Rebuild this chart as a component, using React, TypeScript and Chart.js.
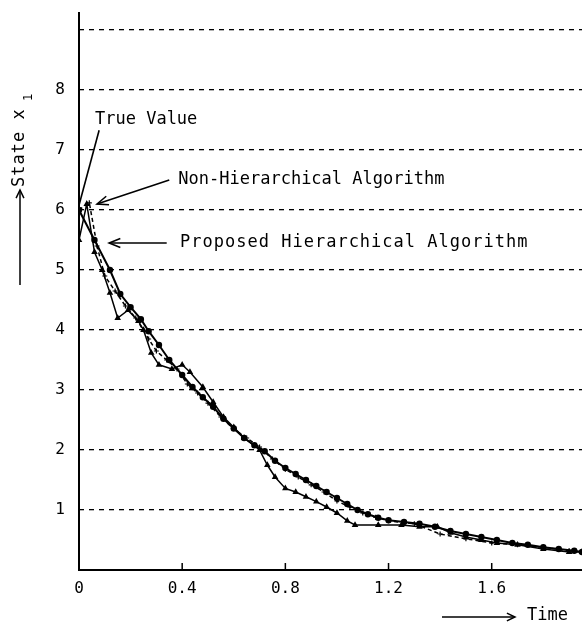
import React, { useEffect, useRef } from 'react';
import { Chart, registerables } from 'chart.js';

Chart.register(...registerables);

// ---- axis ticks ----
const xTickValues = [0, 0.4, 0.8, 1.2, 1.6];
const xTickLabels = ['0', '0.4', '0.8', '1.2', '1.6'];
const yTickValues = [1, 2, 3, 4, 5, 6, 7, 8, 9];
const yTickLabels = ['1', '2', '3', '4', '5', '6', '7', '8', ''];

// ---- series: True Value ----
const trueX = [0, 0.06, 0.12, 0.16, 0.2, 0.24, 0.27, 0.31, 0.35, 0.4, 0.44, 0.48, 0.52, 0.56, 0.6, 0.64, 0.68, 0.72, 0.76, 0.8, 0.84, 0.88, 0.92, 0.96, 1.0, 1.04, 1.08, 1.12, 1.16, 1.2, 1.26, 1.32, 1.38, 1.44, 1.5, 1.56, 1.62, 1.68, 1.74, 1.8, 1.86, 1.92, 1.95];
const trueY = [6.0, 5.5, 5.0, 4.6, 4.38, 4.18, 3.98, 3.75, 3.5, 3.25, 3.05, 2.88, 2.72, 2.52, 2.36, 2.2, 2.08, 1.98, 1.82, 1.7, 1.6, 1.5, 1.4, 1.3, 1.2, 1.1, 1.0, 0.93, 0.87, 0.83, 0.8, 0.77, 0.72, 0.65, 0.6, 0.55, 0.5, 0.45, 0.42, 0.38, 0.35, 0.32, 0.3];

// ---- series: Non-Hierarchical Algorithm ----
const nonHX = [0, 0.03, 0.06, 0.09, 0.12, 0.15, 0.19, 0.23, 0.25, 0.28, 0.31, 0.36, 0.4, 0.43, 0.48, 0.52, 0.56, 0.6, 0.64, 0.7, 0.73, 0.76, 0.8, 0.84, 0.88, 0.92, 0.96, 1.0, 1.04, 1.07, 1.16, 1.25, 1.32, 1.39, 1.44, 1.5, 1.56, 1.62, 1.7, 1.8, 1.9, 1.95];
const nonHY = [5.5, 6.1, 5.3, 5.0, 4.62, 4.2, 4.33, 4.15, 4.0, 3.62, 3.42, 3.35, 3.42, 3.3, 3.05, 2.8, 2.55, 2.38, 2.2, 2.0, 1.75, 1.55, 1.36, 1.3, 1.22, 1.14, 1.05, 0.95, 0.82, 0.75, 0.75, 0.75, 0.72, 0.72, 0.62, 0.55, 0.5, 0.45, 0.42, 0.35, 0.3, 0.3];

// ---- series: Proposed Hierarchical Algorithm ----
const propX = [0, 0.04, 0.07, 0.1, 0.14, 0.18, 0.22, 0.27, 0.3, 0.34, 0.38, 0.42, 0.46, 0.5, 0.55, 0.6, 0.65, 0.7, 0.75, 0.8, 0.85, 0.9, 0.95, 1.0, 1.05, 1.1, 1.15, 1.2, 1.3, 1.4, 1.5, 1.6, 1.7, 1.8, 1.9, 1.95];
const propY = [6.0, 6.12, 5.4, 4.9, 4.65, 4.4, 4.2, 3.85, 3.65, 3.5, 3.35, 3.1, 2.95, 2.78, 2.55, 2.35, 2.2, 2.05, 1.85, 1.68, 1.55, 1.42, 1.3, 1.15, 1.05, 0.95, 0.88, 0.82, 0.77, 0.6, 0.52, 0.45, 0.42, 0.38, 0.32, 0.3];

const pts = (xs: number[], ys: number[]) => xs.map((x, i) => ({ x, y: ys[i] }));

const MONO = '"DejaVu Sans Mono", "Liberation Mono", monospace';

function arrowHead(ctx: CanvasRenderingContext2D, fx: number, fy: number, tx: number, ty: number, len = 12, ang = 0.38) {
  const a = Math.atan2(ty - fy, tx - fx);
  ctx.beginPath();
  ctx.moveTo(tx - len * Math.cos(a - ang), ty - len * Math.sin(a - ang));
  ctx.lineTo(tx, ty);
  ctx.lineTo(tx - len * Math.cos(a + ang), ty - len * Math.sin(a + ang));
  ctx.stroke();
}

const decorPlugin = {
  id: 'decor',
  afterDraw(chart: any) {
    const { ctx, chartArea: a, scales } = chart;
    const xs = scales.x;
    const ys = scales.y;
    const px = (v: number) => xs.getPixelForValue(v);
    const py = (v: number) => ys.getPixelForValue(v);
    ctx.save();
    ctx.setLineDash([]);
    ctx.strokeStyle = '#000';
    ctx.fillStyle = '#000';
    // axes
    ctx.lineWidth = 2;
    ctx.beginPath();
    ctx.moveTo(a.left, a.top);
    ctx.lineTo(a.left, a.bottom);
    ctx.lineTo(a.right, a.bottom);
    ctx.stroke();
    // x tick marks (inward)
    ctx.lineWidth = 1.5;
    ctx.beginPath();
    xTickValues.slice(1).forEach((v) => {
      const p = px(v);
      ctx.moveTo(p, a.bottom);
      ctx.lineTo(p, a.bottom - 7);
    });
    ctx.stroke();

    // annotations
    ctx.font = `17px ${MONO}`;
    ctx.textBaseline = 'middle';
    ctx.textAlign = 'left';
    ctx.lineWidth = 1.6;
    // True Value
    ctx.fillText('True Value', px(0.062), py(7.5));
    ctx.beginPath();
    ctx.moveTo(px(0.078), py(7.33));
    ctx.lineTo(px(0.0), py(6.08));
    ctx.stroke();
    // Non-Hierarchical
    ctx.fillText('Non-Hierarchical Algorithm', px(0.385), py(6.5));
    ctx.beginPath();
    ctx.moveTo(px(0.35), py(6.5));
    ctx.lineTo(px(0.07), py(6.1));
    ctx.stroke();
    arrowHead(ctx, px(0.35), py(6.5), px(0.07), py(6.1));
    // Proposed
    (ctx as any).letterSpacing = '1px';
    ctx.fillText('Proposed Hierarchical Algorithm', px(0.392), py(5.45));
    (ctx as any).letterSpacing = '0px';
    ctx.beginPath();
    ctx.moveTo(px(0.34), py(5.45));
    ctx.lineTo(px(0.117), py(5.45));
    ctx.stroke();
    arrowHead(ctx, px(0.34), py(5.45), px(0.117), py(5.45));

    // y-axis title (rotated)
    ctx.save();
    ctx.translate(20, 285);
    ctx.rotate(-Math.PI / 2);
    ctx.lineWidth = 1.5;
    ctx.beginPath();
    ctx.moveTo(0, 0);
    ctx.lineTo(94, 0);
    ctx.stroke();
    arrowHead(ctx, 0, 0, 95, 0, 9, 0.45);
    (ctx as any).letterSpacing = '1px';
    ctx.font = `17px ${MONO}`;
    ctx.textBaseline = 'middle';
    ctx.fillText('State x', 98, 0);
    (ctx as any).letterSpacing = '0px';
    ctx.font = `12px ${MONO}`;
    ctx.fillText('1', 184, 9);
    ctx.restore();

    // x-axis title
    ctx.lineWidth = 1.5;
    ctx.beginPath();
    ctx.moveTo(442, 617);
    ctx.lineTo(514, 617);
    ctx.stroke();
    arrowHead(ctx, 442, 617, 515, 617, 9, 0.45);
    ctx.font = `17px ${MONO}`;
    ctx.textBaseline = 'middle';
    ctx.fillText('Time', 527, 616);
    ctx.restore();
  },
};

export default function App() {
  const ref = useRef<HTMLCanvasElement | null>(null);
  useEffect(() => {
    if (!ref.current) return;
    const chart = new Chart(ref.current, {
      type: 'line',
      data: {
        datasets: [
          {
            label: 'True Value',
            data: pts(trueX, trueY),
            borderColor: '#000',
            backgroundColor: '#000',
            borderWidth: 2,
            pointRadius: 2.2,
            pointStyle: 'circle',
            tension: 0,
          },
          {
            label: 'Non-Hierarchical Algorithm',
            data: pts(nonHX, nonHY),
            borderColor: '#000',
            backgroundColor: '#000',
            borderWidth: 1.5,
            pointRadius: 2.3,
            pointStyle: 'triangle',
            tension: 0,
          },
          {
            label: 'Proposed Hierarchical Algorithm',
            data: pts(propX, propY),
            borderColor: '#000',
            backgroundColor: '#000',
            borderWidth: 1.5,
            borderDash: [4, 3],
            pointRadius: 2.5,
            pointStyle: 'cross',
            pointBorderWidth: 1.2,
            tension: 0,
          },
        ],
      },
      options: {
        animation: false,
        responsive: true,
        maintainAspectRatio: false,
        layout: { autoPadding: false, padding: { top: 12, right: 2, left: 0, bottom: 0 } },
        plugins: { legend: { display: false }, tooltip: { enabled: false } },
        scales: {
          x: {
            type: 'linear',
            min: 0,
            max: 1.95,
            afterBuildTicks: (s: any) => {
              s.ticks = xTickValues.map((v) => ({ value: v }));
            },
            afterFit: (s: any) => {
              s.height = 56;
              s.paddingLeft = 0;
              s.paddingRight = 0;
            },
            ticks: {
              padding: 9,
              color: '#000',
              font: { family: MONO, size: 16 },
              maxRotation: 0,
              callback: (v: any) => {
                const i = xTickValues.indexOf(Number(v));
                return i >= 0 ? xTickLabels[i] : '';
              },
            },
            grid: { display: false, drawTicks: false },
            border: { display: false },
          },
          y: {
            type: 'linear',
            min: 0,
            max: 9.3,
            afterBuildTicks: (s: any) => {
              s.ticks = yTickValues.map((v) => ({ value: v }));
            },
            afterFit: (s: any) => {
              s.width = 79;
              s.paddingTop = 0;
              s.paddingBottom = 0;
            },
            ticks: {
              padding: 14,
              color: '#000',
              font: { family: MONO, size: 16 },
              callback: (v: any) => {
                const i = yTickValues.indexOf(Number(v));
                return i >= 0 ? yTickLabels[i] : '';
              },
            },
            grid: { color: '#000', lineWidth: 1.3, drawTicks: false },
            border: { display: false, dash: [5, 5] },
          },
        },
      },
      plugins: [decorPlugin],
    });
    return () => chart.destroy();
  }, []);
  return (
    <div style={{ position: 'fixed', left: 0, top: 0, width: 584, height: 626, background: '#fff' }}>
      <canvas ref={ref} />
    </div>
  );
}
